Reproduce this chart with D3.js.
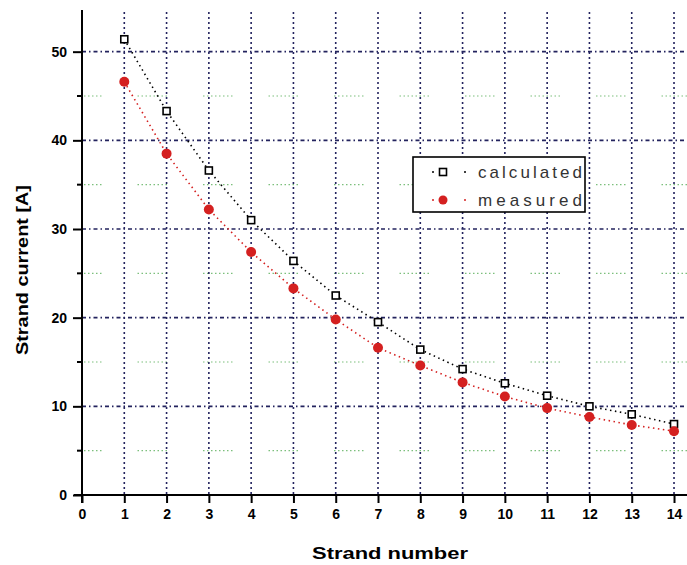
<!DOCTYPE html>
<html><head><meta charset="utf-8">
<script src="https://cdn.jsdelivr.net/npm/d3@7"></script>
<style>body{margin:0;background:#fff}svg{display:block}</style>
</head><body>
<svg id="c" width="687" height="565"></svg>
<script>
const strands = [1,2,3,4,5,6,7,8,9,10,11,12,13,14];
const calculated = [51.4,43.3,36.6,31.0,26.4,22.5,19.5,16.4,14.2,12.6,11.2,10.0,9.1,8.0];
const measured = [46.6,38.5,32.2,27.4,23.3,19.8,16.6,14.6,12.7,11.1,9.8,8.8,7.9,7.2];
const xTicks = [0,1,2,3,4,5,6,7,8,9,10,11,12,13,14];
const yMajor = [0,10,20,30,40,50];
const yMinor = [5,15,25,35,45];
const legendLabels = ["calculated","measured"];

const svg = d3.select("#c");
const x = d3.scaleLinear().domain([0,14.3]).range([82,686.7]);
const y = d3.scaleLinear().domain([0,54.7]).range([495,10]);
const navy = "#23235e";

// minor green grid (segmented dotted)
let pat = [];
for (let i=0;i<8;i++) pat.push(1.5,2.5);
pat[pat.length-1] = 36;
svg.append("g").selectAll("line").data(yMinor).join("line")
  .attr("x1",x(0)).attr("x2",687).attr("y1",d=>y(d)).attr("y2",d=>y(d))
  .attr("stroke","#7cbf7c").attr("stroke-width",1.1)
  .attr("stroke-dasharray",pat.join(" ")).attr("stroke-dashoffset",10);

// vertical grid
svg.append("g").selectAll("line").data(strands).join("line")
  .attr("x1",d=>x(d)).attr("x2",d=>x(d)).attr("y1",12).attr("y2",y(0))
  .attr("stroke",navy).attr("stroke-width",1.6).attr("stroke-dasharray","2 3");

// horizontal major grid (dash-dot)
svg.append("g").selectAll("line").data(yMajor.slice(1)).join("line")
  .attr("x1",x(0)).attr("x2",687).attr("y1",d=>y(d)).attr("y2",d=>y(d))
  .attr("stroke",navy).attr("stroke-width",1.6).attr("stroke-dasharray","4 3 1.5 3");

// axes
const fontB = "bold 14px Arial, 'Liberation Sans', sans-serif";
const xAxis = d3.axisBottom(x).tickValues(xTicks).tickSize(8).tickPadding(6).tickFormat(d3.format("d"));
const gx = svg.append("g").attr("transform",`translate(0,${y(0)})`).call(xAxis);
gx.select(".domain").attr("d",`M${x(0)-8},0H687`).attr("stroke","#000").attr("stroke-width",2);
gx.selectAll(".tick line").attr("stroke","#000").attr("stroke-width",2);
gx.selectAll(".tick text").style("font",fontB).attr("fill","#000");

const yAxis = d3.axisLeft(y).tickValues(yMajor).tickSize(9).tickPadding(6).tickFormat(d3.format("d"));
const gy = svg.append("g").attr("transform",`translate(${x(0)},0)`).call(yAxis);
gy.select(".domain").attr("d",`M0,${y(0)+8}V10`).attr("stroke","#000").attr("stroke-width",2);
gy.selectAll(".tick line").attr("stroke","#000").attr("stroke-width",2);
gy.selectAll(".tick text").style("font",fontB).attr("fill","#000");
svg.append("g").selectAll("line").data(yMinor).join("line")
  .attr("x1",x(0)-5).attr("x2",x(0)).attr("y1",d=>y(d)).attr("y2",d=>y(d))
  .attr("stroke","#000").attr("stroke-width",2);

// axis titles
svg.append("text").attr("x",390).attr("y",559).attr("text-anchor","middle")
  .style("font","bold 17px Arial, 'Liberation Sans', sans-serif")
  .attr("textLength",156).attr("lengthAdjust","spacingAndGlyphs").text("Strand number");
svg.append("text").attr("transform","translate(28,270) rotate(-90)").attr("text-anchor","middle")
  .style("font","bold 17px Arial, 'Liberation Sans', sans-serif")
  .attr("textLength",170).attr("lengthAdjust","spacingAndGlyphs").text("Strand current [A]");

// connecting dotted lines
const line = d3.line().x((d,i)=>x(strands[i])).y(d=>y(d));
svg.append("path").datum(calculated).attr("d",line).attr("fill","none")
  .attr("stroke","#000").attr("stroke-width",1.6).attr("stroke-dasharray","1.5 3.5");
svg.append("path").datum(measured).attr("d",line).attr("fill","none")
  .attr("stroke","#d42020").attr("stroke-width",1.6).attr("stroke-dasharray","1.5 3.5");

// markers
svg.append("g").selectAll("rect").data(calculated).join("rect")
  .attr("x",(d,i)=>x(strands[i])-3.5).attr("y",d=>y(d)-3.5).attr("width",7).attr("height",7)
  .attr("fill","#fff").attr("stroke","#000").attr("stroke-width",1.6);
svg.append("g").selectAll("circle").data(measured).join("circle")
  .attr("cx",(d,i)=>x(strands[i])).attr("cy",d=>y(d)).attr("r",5)
  .attr("fill","#d42020");

// legend
const lg = svg.append("g");
lg.append("rect").attr("x",413).attr("y",157).attr("width",172).attr("height",55)
  .attr("fill","#fff").attr("stroke","#000").attr("stroke-width",1.6);
const rows = [172,200];
rows.forEach((ry,i)=>{
  [433,465].forEach(dx=>lg.append("circle").attr("cx",dx).attr("cy",ry).attr("r",1)
    .attr("fill",i===0?"#000":"#d42020"));
  if(i===0) lg.append("rect").attr("x",439.5).attr("y",ry-3.5).attr("width",7).attr("height",7)
    .attr("fill","#fff").attr("stroke","#000").attr("stroke-width",1.6);
  else lg.append("circle").attr("cx",443).attr("cy",ry).attr("r",4.5).attr("fill","#d42020");
  lg.append("text").attr("x",478).attr("y",ry+6).attr("fill","#333")
    .style("font","17px Arial, 'Liberation Sans', sans-serif")
    .attr("textLength",104).attr("lengthAdjust","spacing").text(legendLabels[i]);
});
</script>
</body></html>
